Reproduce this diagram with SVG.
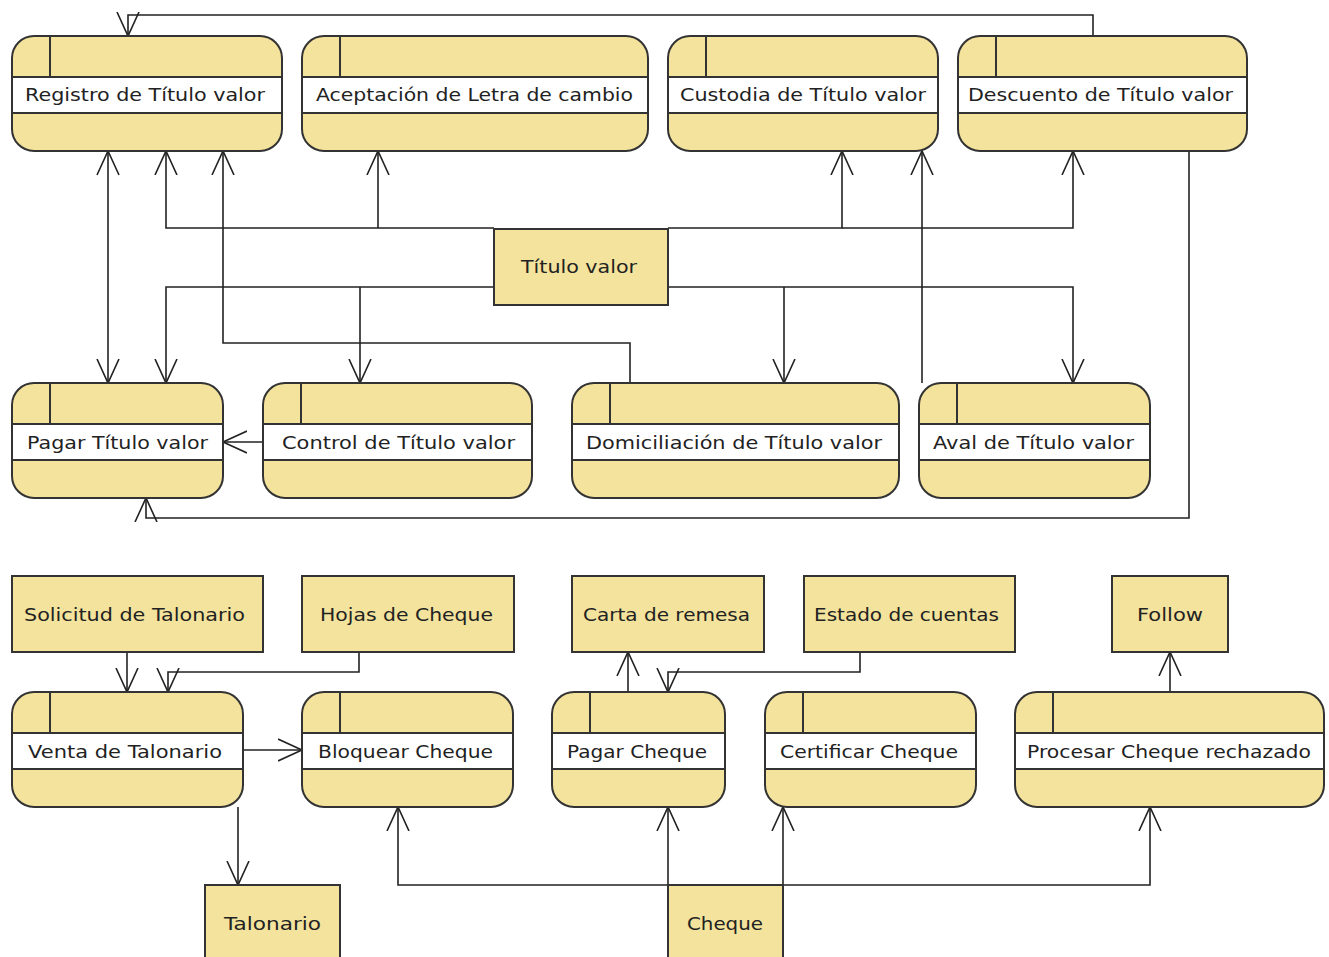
<svg xmlns="http://www.w3.org/2000/svg" width="1329" height="957" viewBox="0 0 1329 957">
  <style>
    .act { fill: #f3e39c; stroke: #333; stroke-width: 2; }
    .band { fill: #ffffff; stroke: #333; stroke-width: 2; }
    .sep { stroke: #333; stroke-width: 2; fill: none; }
    .obj { fill: #f3e39c; stroke: #333; stroke-width: 2; }
    .lbl { font-family: "DejaVu Sans", "Liberation Sans", sans-serif; font-size: 17px; fill: #222; text-anchor: middle; }
    .edge { fill: none; stroke: #222; stroke-width: 1.6; marker-end: url(#open); }
    .edge2 { fill: none; stroke: #222; stroke-width: 1.6; marker-end: url(#open); marker-start: url(#openStart); }
  </style>
  <defs>
    <marker id="open" markerUnits="userSpaceOnUse" markerWidth="30" markerHeight="30" refX="24" refY="12" orient="auto">
      <path d="M0,1 L24,12 L0,23" fill="none" stroke="#222" stroke-width="1.6"/>
    </marker>
    <marker id="openStart" markerUnits="userSpaceOnUse" markerWidth="30" markerHeight="30" refX="0" refY="12" orient="auto">
      <path d="M24,1 L0,12 L24,23" fill="none" stroke="#222" stroke-width="1.6"/>
    </marker>
  </defs>
  <rect width="1329" height="957" fill="#ffffff"/>

  <!-- connectors -->
  <g id="connectors">
    <path class="edge" d="M1093,36 V15 H128 V36"/>
    <path class="edge2" d="M108,151 V383"/>
    <path class="edge" d="M494,228 H166 V151"/>
    <path class="edge" d="M378,228 V151"/>
    <path class="edge" d="M668,228 H842 V151"/>
    <path class="edge" d="M842,228 H1073 V151"/>
    <path class="edge" d="M494,287 H166 V383"/>
    <path class="edge" d="M360,287 V383"/>
    <path class="edge" d="M668,287 H1073 V383"/>
    <path class="edge" d="M784,287 V383"/>
    <path class="edge" d="M630,383 V343 H223 V151"/>
    <path class="edge" d="M922,383 V151"/>
    <path class="edge" d="M1189,151 V518 H146 V498"/>
    <path class="edge" d="M263,442 H223"/>
    <path class="edge" d="M127,652 V692"/>
    <path class="edge" d="M359,652 V672 H168 V692"/>
    <path class="edge" d="M243,750 H302"/>
    <path class="edge" d="M238,807 V885"/>
    <path class="edge" d="M628,692 V652"/>
    <path class="edge" d="M860,652 V672 H668 V692"/>
    <path class="edge" d="M1170,692 V652"/>
    <path class="edge" d="M668,885 H398 V807"/>
    <path class="edge" d="M668,885 V807"/>
    <path class="edge" d="M783,885 V807"/>
    <path class="edge" d="M783,885 H1150 V807"/>
  </g>

  <!-- activity nodes: rounded body, white name band, small top compartment -->
  <g id="registro">
    <rect class="act" x="12" y="36" width="270" height="115" rx="22"/>
    <rect class="band" x="12" y="77" width="270" height="36"/>
    <line class="sep" x1="50" y1="36" x2="50" y2="77"/>
    <text class="lbl" x="145" y="101" textLength="240" lengthAdjust="spacingAndGlyphs">Registro de Título valor</text>
  </g>
  <g id="aceptacion">
    <rect class="act" x="302" y="36" width="346" height="115" rx="22"/>
    <rect class="band" x="302" y="77" width="346" height="36"/>
    <line class="sep" x1="340" y1="36" x2="340" y2="77"/>
    <text class="lbl" x="474.5" y="101" textLength="317" lengthAdjust="spacingAndGlyphs">Aceptación de Letra de cambio</text>
  </g>
  <g id="custodia">
    <rect class="act" x="668" y="36" width="270" height="115" rx="22"/>
    <rect class="band" x="668" y="77" width="270" height="36"/>
    <line class="sep" x1="706" y1="36" x2="706" y2="77"/>
    <text class="lbl" x="803" y="101" textLength="246" lengthAdjust="spacingAndGlyphs">Custodia de Título valor</text>
  </g>
  <g id="descuento">
    <rect class="act" x="958" y="36" width="289" height="115" rx="22"/>
    <rect class="band" x="958" y="77" width="289" height="36"/>
    <line class="sep" x1="996" y1="36" x2="996" y2="77"/>
    <text class="lbl" x="1100.5" y="101" textLength="265" lengthAdjust="spacingAndGlyphs">Descuento de Título valor</text>
  </g>

  <g id="titulo-valor">
    <rect class="obj" x="494" y="229" width="174" height="76"/>
    <text class="lbl" x="579" y="273" textLength="116" lengthAdjust="spacingAndGlyphs">Título valor</text>
  </g>

  <g id="pagar-titulo">
    <rect class="act" x="12" y="383" width="211" height="115" rx="22"/>
    <rect class="band" x="12" y="424" width="211" height="36"/>
    <line class="sep" x1="50" y1="383" x2="50" y2="424"/>
    <text class="lbl" x="117.5" y="449" textLength="181" lengthAdjust="spacingAndGlyphs">Pagar Título valor</text>
  </g>
  <g id="control">
    <rect class="act" x="263" y="383" width="269" height="115" rx="22"/>
    <rect class="band" x="263" y="424" width="269" height="36"/>
    <line class="sep" x1="301" y1="383" x2="301" y2="424"/>
    <text class="lbl" x="398.5" y="449" textLength="233" lengthAdjust="spacingAndGlyphs">Control de Título valor</text>
  </g>
  <g id="domiciliacion">
    <rect class="act" x="572" y="383" width="327" height="115" rx="22"/>
    <rect class="band" x="572" y="424" width="327" height="36"/>
    <line class="sep" x1="610" y1="383" x2="610" y2="424"/>
    <text class="lbl" x="734" y="449" textLength="296" lengthAdjust="spacingAndGlyphs">Domiciliación de Título valor</text>
  </g>
  <g id="aval">
    <rect class="act" x="919" y="383" width="231" height="115" rx="22"/>
    <rect class="band" x="919" y="424" width="231" height="36"/>
    <line class="sep" x1="957" y1="383" x2="957" y2="424"/>
    <text class="lbl" x="1033.5" y="449" textLength="201" lengthAdjust="spacingAndGlyphs">Aval de Título valor</text>
  </g>

  <!-- object nodes of the cheque section -->
  <g id="solicitud">
    <rect class="obj" x="12" y="576" width="251" height="76"/>
    <text class="lbl" x="134.5" y="621" textLength="221" lengthAdjust="spacingAndGlyphs">Solicitud de Talonario</text>
  </g>
  <g id="hojas">
    <rect class="obj" x="302" y="576" width="212" height="76"/>
    <text class="lbl" x="406.5" y="621" textLength="173" lengthAdjust="spacingAndGlyphs">Hojas de Cheque</text>
  </g>
  <g id="carta">
    <rect class="obj" x="572" y="576" width="192" height="76"/>
    <text class="lbl" x="666.5" y="621" textLength="167" lengthAdjust="spacingAndGlyphs">Carta de remesa</text>
  </g>
  <g id="estado">
    <rect class="obj" x="804" y="576" width="211" height="76"/>
    <text class="lbl" x="906.5" y="621" textLength="185" lengthAdjust="spacingAndGlyphs">Estado de cuentas</text>
  </g>
  <g id="follow">
    <rect class="obj" x="1112" y="576" width="116" height="76"/>
    <text class="lbl" x="1170" y="621" textLength="66" lengthAdjust="spacingAndGlyphs">Follow</text>
  </g>

  <g id="venta">
    <rect class="act" x="12" y="692" width="231" height="115" rx="22"/>
    <rect class="band" x="12" y="733" width="231" height="36"/>
    <line class="sep" x1="50" y1="692" x2="50" y2="733"/>
    <text class="lbl" x="125" y="758" textLength="194" lengthAdjust="spacingAndGlyphs">Venta de Talonario</text>
  </g>
  <g id="bloquear">
    <rect class="act" x="302" y="692" width="211" height="115" rx="22"/>
    <rect class="band" x="302" y="733" width="211" height="36"/>
    <line class="sep" x1="340" y1="692" x2="340" y2="733"/>
    <text class="lbl" x="405.5" y="758" textLength="175" lengthAdjust="spacingAndGlyphs">Bloquear Cheque</text>
  </g>
  <g id="pagar-cheque">
    <rect class="act" x="552" y="692" width="173" height="115" rx="22"/>
    <rect class="band" x="552" y="733" width="173" height="36"/>
    <line class="sep" x1="590" y1="692" x2="590" y2="733"/>
    <text class="lbl" x="637" y="758" textLength="140" lengthAdjust="spacingAndGlyphs">Pagar Cheque</text>
  </g>
  <g id="certificar">
    <rect class="act" x="765" y="692" width="211" height="115" rx="22"/>
    <rect class="band" x="765" y="733" width="211" height="36"/>
    <line class="sep" x1="803" y1="692" x2="803" y2="733"/>
    <text class="lbl" x="869" y="758" textLength="178" lengthAdjust="spacingAndGlyphs">Certificar Cheque</text>
  </g>
  <g id="procesar">
    <rect class="act" x="1015" y="692" width="309" height="115" rx="22"/>
    <rect class="band" x="1015" y="733" width="309" height="36"/>
    <line class="sep" x1="1053" y1="692" x2="1053" y2="733"/>
    <text class="lbl" x="1169" y="758" textLength="284" lengthAdjust="spacingAndGlyphs">Procesar Cheque rechazado</text>
  </g>

  <g id="talonario">
    <rect class="obj" x="205" y="885" width="135" height="80"/>
    <text class="lbl" x="272.5" y="930" textLength="97" lengthAdjust="spacingAndGlyphs">Talonario</text>
  </g>
  <g id="cheque">
    <rect class="obj" x="668" y="885" width="115" height="80"/>
    <text class="lbl" x="725" y="930" textLength="76" lengthAdjust="spacingAndGlyphs">Cheque</text>
  </g>
</svg>
